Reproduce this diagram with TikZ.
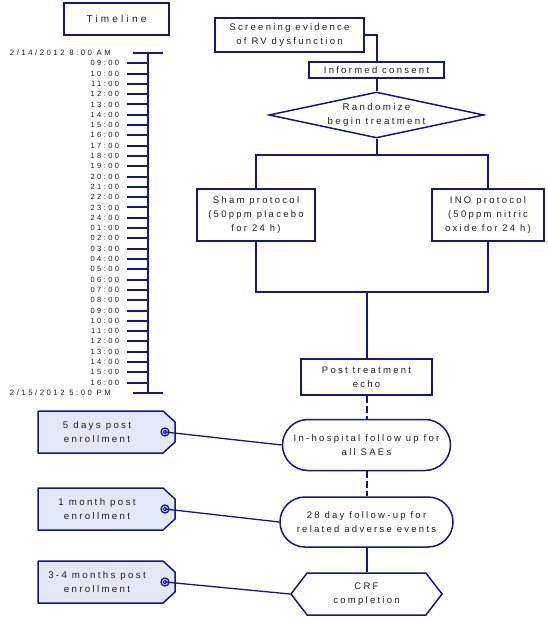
\documentclass[tikz,border=0pt]{standalone}
\usepackage{fontspec}
\setmainfont{Liberation Sans}[LetterSpace=24]
\newfontfamily\titlefont{Liberation Sans}[LetterSpace=32]
\newfontfamily\tickfont{Liberation Sans}[LetterSpace=32]
\usetikzlibrary{shapes.geometric,shapes.misc,shapes.symbols}
\definecolor{navy}{RGB}{22,22,130}
\definecolor{tagfill}{RGB}{228,232,245}
\definecolor{ink}{RGB}{30,30,30}
\tikzset{
  box/.style={draw=navy,line width=2pt,fill=white,align=center,text=ink,
    font=\fontsize{9.5}{14}\selectfont,inner sep=0pt},
  txt/.style={align=center,text=ink,font=\fontsize{9.7}{14}\selectfont,inner sep=0pt},
  ticklab/.style={anchor=east,text=ink,font=\tickfont\fontsize{7.5}{8}\selectfont,inner sep=0pt},
  link/.style={draw=navy,line width=2pt},
  thin link/.style={draw=navy,line width=1.3pt},
  tagbox/.style={draw=navy,line width=1.5pt,fill=tagfill,line join=round}
}
\begin{document}
\begin{tikzpicture}[x=1pt,y=-1pt]
\useasboundingbox[fill=white] (0,0) rectangle (547,620);

% timeline
\node[box,line width=2.5pt,minimum width=105pt,minimum height=32pt,
  font=\titlefont\fontsize{10}{12}\selectfont] (title) at (116.5,19) {Timeline};
\draw[link] (148,53) -- (148,393); % axis
\draw[link,line width=2.5pt] (133,53) -- (163,53);
\draw[link,line width=2.5pt] (133,393) -- (163,393);
\node[ticklab,font=\tickfont\fontsize{7.8}{8}\selectfont] (start) at (111,53) {2/14/2012 8:00 AM};
\node[ticklab,font=\tickfont\fontsize{7.8}{8}\selectfont] (stop) at (111,393) {2/15/2012 5:00 PM};
\foreach \h [count=\i] in {09,10,11,12,13,14,15,16,17,18,19,20,21,22,23,24,
    01,02,03,04,05,06,07,08,09,10,11,12,13,14,15,16} % hours
  \draw[link] (127,53+\i*10.3) -- (148,53+\i*10.3)
    node[ticklab,at start,xshift=-7pt] (t\i) {\h:00};

% flow chart
\node[box,minimum width=149pt,minimum height=34pt] (screen) at (289.5,35) {Screening evidence\\of RV dysfunction};
\node[box,minimum width=135pt,minimum height=16pt] (consent) at (376.5,70) {Informed consent};
\node[diamond,draw=navy,line width=1.5pt,fill=white,aspect=4.67,
  minimum width=215pt,minimum height=46pt,inner sep=0pt] (rand) at (376.5,115) {};
\node[txt] (randtxt) at (rand) {Randomize\\begin treatment};
\coordinate (split) at (376.5,155);
\node[box,minimum width=118pt,minimum height=52pt] (sham) at (256,215) {Sham protocol\\(50ppm placebo\\for 24 h)};
\node[box,minimum width=112pt,minimum height=52pt] (ino) at (488,215) {INO protocol\\(50ppm nitric\\oxide for 24 h)};
\coordinate (merge) at (366.5,292);
\node[box,line width=2.5pt,minimum width=131pt,minimum height=36pt] (echo) at (366.5,377) {Post treatment\\echo};
\node[box,rounded rectangle,line width=1.5pt,minimum width=168pt,minimum height=51pt] (hosp) at (366.5,445) {In-hospital follow up for\\all SAEs};
\node[box,rounded rectangle,line width=1.5pt,minimum width=173pt,minimum height=50pt] (day28) at (366.5,522) {28 day follow-up for\\related adverse events};
\node[box,signal,signal to=west and east,signal pointer angle=105,line width=1.5pt,
  minimum width=151pt,minimum height=42pt] (crf) at (366.5,594) {CRF\\completion};

\draw[link] (screen.east) -| (consent.north);
\draw[link] (consent.south) -- (rand.north);
\draw[link] (rand.south) -- (split);
\draw[link] (sham.north) |- (split) -| (ino.north);
\draw[link] (sham.south) |- (merge) -| (ino.south);
\draw[link] (merge) -- (echo.north);
\draw[link,dash pattern=on 7pt off 3pt] (echo.south) -- (hosp.north);
\draw[link,dash pattern=on 7pt off 3pt] (hosp.south) -- (day28.north);
\draw[link] (day28.south) -- (crf.north);

% tags
\foreach \n/\y/\lab in {A/432/5 days post\\enrollment,B/509/1 month post\\enrollment,C/582/3-4 months post\\enrollment}{
  \draw[tagbox] (38,\y-21) -- (163,\y-21) -- (175,\y-10) -- (175,\y+10) -- (163,\y+21) -- (38,\y+21) -- cycle;
  \node[txt] (tag\n) at (97,\y) {\lab};
  \draw[navy,line width=1.3pt] (165,\y) circle (4pt);
  \draw[navy,line width=1pt] (165,\y) circle (1.8pt);
  \coordinate (eye\n) at (165,\y);
}
\draw[thin link] (eyeA) -- (hosp.west);
\draw[thin link] (eyeB) -- (day28.west);
\draw[thin link] (eyeC) -- (crf.west);
\end{tikzpicture}
\end{document}
